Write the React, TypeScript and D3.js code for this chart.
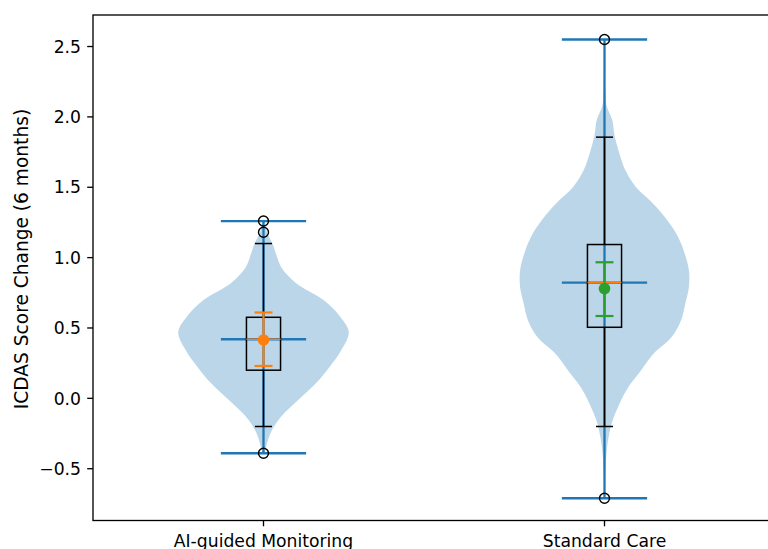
import React from "react";
import * as d3 from "d3";

const categories = ["AI-guided Monitoring", "Standard Care"];
const seriesColors = ["#ff7f0e", "#2ca02c"];

// violin profiles: value and relative density (0..1)
const violinValues1 = [1.26, 1.18, 1.1, 1.02, 0.93, 0.82, 0.7, 0.58, 0.47, 0.34, 0.22, 0.11, -0.01, -0.135, -0.25, -0.37, -0.39];
const violinDensity1 = [0.01, 0.04, 0.105, 0.15, 0.21, 0.38, 0.7, 0.9, 1.0, 0.91, 0.77, 0.62, 0.41, 0.2, 0.08, 0.02, 0.01];
const violinValues2 = [2.55, 2.19, 2.08, 1.98, 1.86, 1.74, 1.62, 1.5, 1.39, 1.27, 1.15, 1.03, 0.91, 0.79, 0.68, 0.55, 0.43, 0.32, 0.2, 0.08, -0.04, -0.16, -0.28, -0.39, -0.55, -0.71];
const violinDensity2 = [0.0, 0.01, 0.025, 0.09, 0.12, 0.175, 0.245, 0.37, 0.56, 0.73, 0.86, 0.94, 0.99, 0.99, 0.95, 0.895, 0.78, 0.58, 0.43, 0.28, 0.175, 0.093, 0.047, 0.023, 0.008, 0.0];

const violinMin = [-0.39, -0.71];
const violinMax = [1.26, 2.55];
const violinMedian = [0.42, 0.823];

const boxQ1 = [0.2, 0.505];
const boxQ3 = [0.576, 1.093];
const boxMedian = [0.42, 0.823];
const whiskerLow = [-0.2, -0.2];
const whiskerHigh = [1.1, 1.856];
const fliers1 = [1.26, 1.18, -0.39];
const fliers2 = [2.55, -0.71];

const means = [0.415, 0.78];
const ciLow = [0.23, 0.585];
const ciHigh = [0.61, 0.967];

const yTicks = [-0.5, 0.0, 0.5, 1.0, 1.5, 2.0, 2.5];

const W = 768;
const H = 549;
const left = 93;
const top = 15;
const bottom = 520.5;
const right = 775;

const BLUE = "#1f77b4";
const FONT = "DejaVu Sans, sans-serif";
const TICK_FS = 17.2;
const LABEL_FS = 18.6;

export default function App() {
  const x = d3.scaleLinear().domain([0.5, 2.5]).range([left, right]);
  const y = d3.scaleLinear().domain([-0.868, 2.724]).range([bottom, top]);
  const unit = x(1) - x(0);

  const profiles = [
    { v: violinValues1, d: violinDensity1 },
    { v: violinValues2, d: violinDensity2 },
  ];
  const fliers = [fliers1, fliers2];

  const fmt = (t: number) => (t < 0 ? "\u2212" + Math.abs(t).toFixed(1) : t.toFixed(1));

  return (
    <svg
      width={W}
      height={H}
      style={{ position: "absolute", left: 0, top: 0, background: "#fff" }}
      fontFamily={FONT}
    >
      {categories.map((c, i) => {
        const pos = i + 1;
        const cx = x(pos);
        const pts = profiles[i].v.map((v, k) => ({ v, d: profiles[i].d[k] }));
        const area = d3
          .area<{ v: number; d: number }>()
          .y((p) => y(p.v))
          .x0((p) => x(pos - 0.25 * p.d))
          .x1((p) => x(pos + 0.25 * p.d))
          .curve(d3.curveCatmullRom);
        const capHalf = 0.125 * unit;
        const boxHalf = 0.05 * unit;
        const wCapHalf = 0.025 * unit;
        return (
          <g key={c}>
            <path d={area(pts) || ""} fill={BLUE} fillOpacity={0.3} stroke="none" />
            {/* violin lines */}
            <line x1={cx} x2={cx} y1={y(violinMin[i])} y2={y(violinMax[i])} stroke={BLUE} strokeWidth={2.3} />
            <line x1={cx - capHalf} x2={cx + capHalf} y1={y(violinMax[i])} y2={y(violinMax[i])} stroke={BLUE} strokeWidth={2.3} />
            <line x1={cx - capHalf} x2={cx + capHalf} y1={y(violinMin[i])} y2={y(violinMin[i])} stroke={BLUE} strokeWidth={2.3} />
            <line x1={cx - capHalf} x2={cx + capHalf} y1={y(violinMedian[i])} y2={y(violinMedian[i])} stroke={BLUE} strokeWidth={2.3} />
            {/* boxplot */}
            <rect
              x={cx - boxHalf}
              y={y(boxQ3[i])}
              width={2 * boxHalf}
              height={y(boxQ1[i]) - y(boxQ3[i])}
              fill="none"
              stroke="#000"
              strokeWidth={1.5}
            />
            <line x1={cx} x2={cx} y1={y(boxQ3[i])} y2={y(whiskerHigh[i])} stroke="#000" strokeWidth={1.5} />
            <line x1={cx} x2={cx} y1={y(boxQ1[i])} y2={y(whiskerLow[i])} stroke="#000" strokeWidth={1.5} />
            <line x1={cx - wCapHalf} x2={cx + wCapHalf} y1={y(whiskerHigh[i])} y2={y(whiskerHigh[i])} stroke="#000" strokeWidth={1.5} />
            <line x1={cx - wCapHalf} x2={cx + wCapHalf} y1={y(whiskerLow[i])} y2={y(whiskerLow[i])} stroke="#000" strokeWidth={1.5} />
            <line x1={cx - boxHalf} x2={cx + boxHalf} y1={y(boxMedian[i])} y2={y(boxMedian[i])} stroke="#ff7f0e" strokeWidth={1.5} />
            {fliers[i].map((f, k) => (
              <circle key={k} cx={cx} cy={y(f)} r={5} fill="none" stroke="#000" strokeWidth={1.4} />
            ))}
            {/* mean with CI */}
            <line x1={cx} x2={cx} y1={y(ciLow[i])} y2={y(ciHigh[i])} stroke={seriesColors[i]} strokeWidth={2.2} />
            <line x1={cx - 9} x2={cx + 9} y1={y(ciLow[i])} y2={y(ciLow[i])} stroke={seriesColors[i]} strokeWidth={2.2} />
            <line x1={cx - 9} x2={cx + 9} y1={y(ciHigh[i])} y2={y(ciHigh[i])} stroke={seriesColors[i]} strokeWidth={2.2} />
            <circle cx={cx} cy={y(means[i])} r={5.8} fill={seriesColors[i]} />
          </g>
        );
      })}

      {/* axes frame */}
      <rect x={left} y={top} width={right - left} height={bottom - top} fill="none" stroke="#000" strokeWidth={1.33} />

      {/* y ticks */}
      {yTicks.map((t) => (
        <g key={t}>
          <line x1={left - 5.8} x2={left} y1={y(t)} y2={y(t)} stroke="#000" strokeWidth={1.33} />
          <text x={left - 12} y={y(t)} dy="0.36em" textAnchor="end" fontSize={TICK_FS} fill="#000">
            {fmt(t)}
          </text>
        </g>
      ))}

      {/* x ticks */}
      {categories.map((c, i) => (
        <g key={c}>
          <line x1={x(i + 1)} x2={x(i + 1)} y1={bottom} y2={bottom + 5.8} stroke="#000" strokeWidth={1.33} />
          <text x={x(i + 1)} y={546.5} textAnchor="middle" fontSize={TICK_FS} fill="#000">
            {c}
          </text>
        </g>
      ))}

      <text
        transform={`translate(28, 259) rotate(-90)`}
        textAnchor="middle"
        fontSize={LABEL_FS}
        fill="#000"
      >
        ICDAS Score Change (6 months)
      </text>
    </svg>
  );
}
